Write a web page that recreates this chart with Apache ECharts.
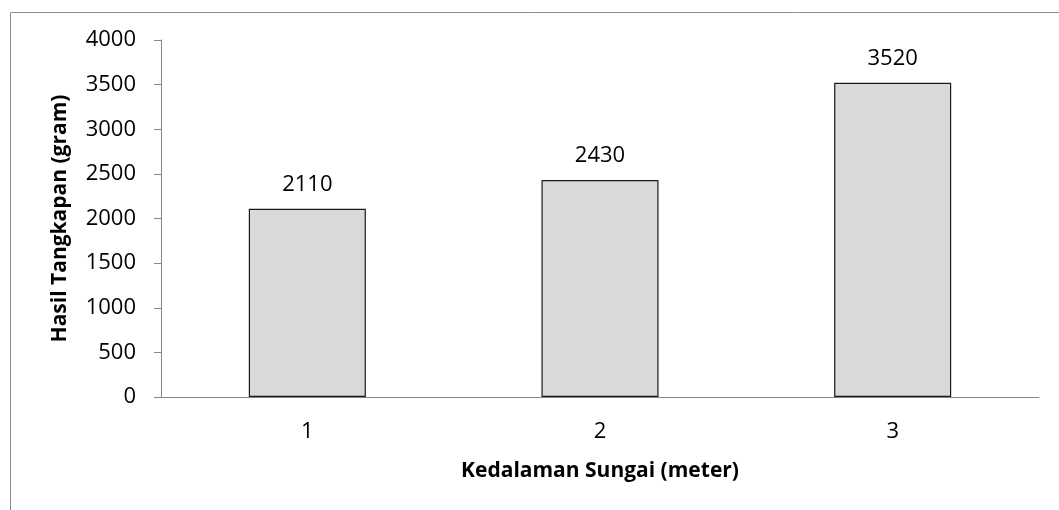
<!DOCTYPE html>
<html>
<head>
<meta charset="utf-8">
<script src="https://cdn.jsdelivr.net/npm/echarts@6/dist/echarts.min.js"></script>
<style>html,body{margin:0;padding:0;background:#fff}#c{width:1059px;height:510px}</style>
</head>
<body>
<div id="c"></div>
<script>
var categories = ['1', '2', '3'];
var values = [2110, 2430, 3520];
var yTicks = [0, 500, 1000, 1500, 2000, 2500, 3000, 3500, 4000];

var chart = echarts.init(document.getElementById('c'), null, {renderer: 'canvas'});
var font = '"Open Sans", "Noto Sans", sans-serif';
chart.setOption({
  animation: false,
  graphic: [{
    type: 'rect', left: 8, top: 10,
    shape: {width: 1100, height: 560},
    style: {fill: 'none', stroke: '#8c8c8c', lineWidth: 1}
  }],
  grid: {left: 161, right: 20, top: 40, bottom: 113},
  xAxis: {
    type: 'category',
    data: categories,
    name: 'Kedalaman Sungai (meter)',
    nameLocation: 'middle',
    nameGap: 64,
    nameTextStyle: {fontFamily: font, fontSize: 21, fontWeight: 'bold', color: '#000'},
    axisLine: {lineStyle: {color: '#868686', width: 1}},
    axisTick: {show: false},
    axisLabel: {fontFamily: font, fontSize: 22, color: '#000', margin: 24}
  },
  yAxis: {
    type: 'value',
    min: yTicks[0], max: yTicks[yTicks.length - 1], interval: 500,
    name: 'Hasil Tangkapan (gram)',
    nameLocation: 'middle',
    nameGap: 90,
    nameTextStyle: {fontFamily: font, fontSize: 21, fontWeight: 'bold', color: '#000'},
    axisLine: {show: true, lineStyle: {color: '#868686', width: 1}},
    axisTick: {show: true, length: 7, lineStyle: {color: '#868686'}},
    axisLabel: {fontFamily: font, fontSize: 22, color: '#000', margin: 25,
      formatter: function (v) { return String(v); }},
    splitLine: {show: false}
  },
  series: [{
    type: 'bar',
    data: values,
    barWidth: '40%',
    itemStyle: {color: '#d9d9d9', borderColor: '#1a1a1a', borderWidth: 1.2},
    label: {show: true, position: 'top', distance: 13, fontFamily: font, fontSize: 22, color: '#000'}
  }]
});
</script>
</body>
</html>
